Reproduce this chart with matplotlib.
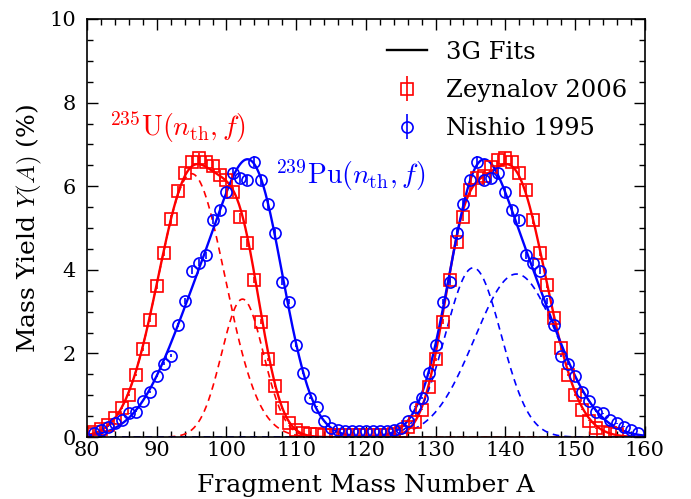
import numpy as np
import matplotlib
matplotlib.use('Agg')
import matplotlib.pyplot as plt
from matplotlib.lines import Line2D
from matplotlib.ticker import MultipleLocator

plt.rcParams['font.family'] = 'DejaVu Serif'
plt.rcParams['mathtext.fontset'] = 'cm'

# Zeynalov 2006, U-235(n_th,f)
u_mass = list(range(80, 157))
u_yield = [0.08, 0.12, 0.20, 0.30, 0.45, 0.69, 1.00, 1.48, 2.10, 2.80,
           3.61, 4.41, 5.21, 5.89, 6.32, 6.59, 6.67, 6.59, 6.48, 6.27,
           6.15, 5.87, 5.26, 4.65, 3.76, 2.76, 1.86, 1.22, 0.69, 0.33,
           0.16, 0.10, 0.08, 0.07, 0.06, 0.06, 0.05, 0.05, 0.05, 0.05,
           0.05, 0.05, 0.06, 0.06, 0.08, 0.13, 0.25, 0.36, 0.66, 1.20,
           1.86, 2.76, 3.76, 4.67, 5.27, 5.90, 6.19, 6.25, 6.45, 6.62,
           6.68, 6.59, 6.32, 5.90, 5.19, 4.41, 3.64, 2.84, 2.12, 1.48,
           1.00, 0.65, 0.39, 0.21, 0.13, 0.09, 0.07]

# Nishio 1995, Pu-239(n_th,f)
pu_mass = list(range(81, 160))
pu_yield = [0.09, 0.17, 0.25, 0.33, 0.41, 0.57, 0.61, 0.87, 1.08, 1.46,
            1.76, 1.95, 2.68, 3.26, 3.98, 4.17, 4.35, 5.19, 5.43, 5.87,
            6.31, 6.19, 6.15, 6.59, 6.15, 5.57, 4.87, 3.72, 3.24, 2.20,
            1.54, 0.93, 0.73, 0.39, 0.21, 0.17, 0.15, 0.15, 0.15, 0.15,
            0.15, 0.15, 0.15, 0.17, 0.21, 0.39, 0.73, 0.93, 1.54, 2.20,
            3.24, 3.72, 4.87, 5.57, 6.15, 6.59, 6.15, 6.19, 6.31, 5.87,
            5.43, 5.19, 4.35, 4.17, 3.98, 3.26, 2.68, 1.95, 1.76, 1.46,
            1.08, 0.87, 0.61, 0.57, 0.41, 0.33, 0.25, 0.17, 0.09]
rel_err = 0.02

# gaussian fit parameters (center, amplitude, sigma)
u_light = [(95.0, 6.3, 4.8), (102.3, 3.3, 3.0)]
u_heavy = [(141.0, 6.3, 4.8), (133.7, 3.3, 3.0)]
pu_heavy = [(135.4, 4.05, 4.0), (141.6, 3.9, 6.0)]
pu_light = [(104.6, 4.05, 4.0), (98.4, 3.9, 6.0)]


def gauss(x, c, a, s):
    return a * np.exp(-(x - c) ** 2 / (2 * s ** 2))


def fit_sum(x, comps):
    return sum(gauss(x, *p) for p in comps)


x = np.linspace(80, 160, 801)

fig = plt.figure(figsize=(6.91, 4.99), dpi=100)
ax = fig.add_axes([0.126, 0.124, 0.807, 0.838])

ax.plot(x, fit_sum(x, u_light + u_heavy), color='red', lw=1.7)
ax.errorbar(u_mass, u_yield, yerr=rel_err * np.array(u_yield), fmt='s', mfc='none',
            mec='red', ecolor='red', ms=8, mew=1.2, capsize=0, elinewidth=1.2)
for p in u_light:
    ax.plot(x, gauss(x, *p), color='red', ls='--', lw=1.2, dashes=(4, 3))

ax.plot(x, fit_sum(x, pu_light + pu_heavy), color='blue', lw=1.7)
ax.errorbar(pu_mass, pu_yield, yerr=rel_err * np.array(pu_yield), fmt='o', mfc='none',
            mec='blue', ecolor='blue', ms=8, mew=1.2, capsize=0, elinewidth=1.2)
for p in pu_heavy:
    ax.plot(x, gauss(x, *p), color='blue', ls='--', lw=1.2, dashes=(4, 3))

ax.text(92.9, 7.42, r'$^{235}\mathrm{U}(n_{\mathrm{th}},f)$', color='red',
        fontsize=20, ha='center', va='center')
ax.text(117.8, 6.27, r'$^{239}\mathrm{Pu}(n_{\mathrm{th}},f)$', color='blue',
        fontsize=20, ha='center', va='center')

ax.set_xlim(80, 160)
ax.set_ylim(0, 10)
ax.xaxis.set_major_locator(MultipleLocator(10))
ax.xaxis.set_minor_locator(MultipleLocator(2))
ax.yaxis.set_major_locator(MultipleLocator(2))
ax.yaxis.set_minor_locator(MultipleLocator(0.5))
ax.tick_params(which='both', direction='in', top=True, right=True, labelsize=15, width=1.0)
ax.tick_params(which='major', length=8)
ax.tick_params(which='minor', length=4)
ax.tick_params(axis='x', which='major', pad=3)
ax.tick_params(axis='y', which='major', pad=8)
for sp in ax.spines.values():
    sp.set_linewidth(1.2)

ax.set_xlabel('Fragment Mass Number A', fontsize=18, labelpad=10)
ax.set_ylabel(r'Mass Yield $Y(A)$ (%)', fontsize=18, labelpad=4)

handles = [Line2D([], [], color='black', lw=1.7),
           ax.containers[0], ax.containers[1]]
labels = ['3G Fits', 'Zeynalov 2006', 'Nishio 1995']
ax.legend(handles, labels, loc='upper right', frameon=False, fontsize=17.5,
          handlelength=1.65, handletextpad=0.8, labelspacing=0.62,
          borderaxespad=0.3, bbox_to_anchor=(1.0, 0.988))

fig.savefig('out.png', dpi=100)
